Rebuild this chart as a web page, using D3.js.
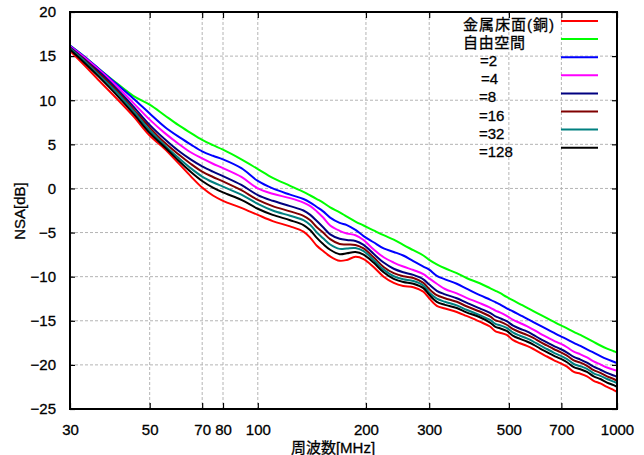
<!DOCTYPE html>
<html>
<head>
<meta charset="utf-8">
<script src="https://cdn.jsdelivr.net/npm/d3@7"></script>
<style>
  html, body { margin: 0; padding: 0; background: #fff; }
  svg { display: block; }
  text { font-family: "Liberation Sans", Arial, "Noto Sans CJK JP", sans-serif; fill: #000; stroke: #000; stroke-width: 0.3px; }
  .cjk { font-family: "Liberation Sans", "Noto Sans CJK JP", sans-serif; }
</style>
</head>
<body>
<svg id="chart" width="644" height="455"></svg>
<script>
// ---- data ----
const freqMHz = [30,33,36,40,45,50,55,60,65,70,75,80,90,100,110,123,134,140,146,152,159,169,177,187,197,210,224,239,254,271,289,300,315,332,358,381,415,443,459,472,493,514,537,561,585,611,638,666,696,726,758,791,825,861,899,938,979,1000];

const nsaMetal = [15.6,13.9,12.3,10.4,8.2, 6.0,4.5,2.9,1.4,0.1, -0.8,-1.4,-2.2,-3.0,-3.7, -4.3,-4.9,-5.6,-6.5,-7.1, -7.7,-8.2,-8.1,-7.75,-8.0, -8.9,-10.0,-10.7,-11.05,-11.2, -11.7,-12.45,-13.3,-13.6,-14.0, -14.45,-15.1,-15.65,-16.2,-16.35, -16.6,-17.2,-17.55,-17.85,-18.2, -18.65,-19.05,-19.45,-19.8,-20.2, -20.8,-21.0,-21.3,-21.8,-22.1, -22.5,-22.85,-23.05];
const nsaFree = [16.2,14.9,13.6,12.1,10.5, 9.5,8.3,7.2,6.3,5.5, 4.9,4.4,3.3,2.2,1.2, 0.3,-0.4,-0.8,-1.2,-1.6, -2.15,-2.7,-3.2,-3.75,-4.2, -4.75,-5.3,-5.8,-6.4,-7.0, -7.6,-8.1,-8.6,-9.05,-9.6, -10.15,-10.75,-11.3,-11.6,-11.85, -12.3,-12.7,-13.1,-13.5,-13.9, -14.3,-14.7,-15.1,-15.5,-15.85, -16.25,-16.6,-17.0,-17.4,-17.8, -18.15,-18.45,-18.6];
const nsa2 = [16.2,14.9,13.6,12.0,10.2, 8.5,7.0,5.9,5.0,4.2, 3.7,3.3,2.3,0.85,0.0, -0.7,-1.2,-1.6,-2.1,-2.6, -3.3,-3.9,-4.15,-4.7,-5.4, -6.1,-6.8,-7.2,-7.6,-8.25, -8.85,-9.2,-9.9,-10.3,-10.8, -11.35,-12.1,-12.6,-12.9,-13.15, -13.6,-13.95,-14.35,-14.75,-15.15, -15.55,-15.95,-16.35,-16.75,-17.1, -17.5,-17.85,-18.25,-18.6,-19.0, -19.35,-19.65,-19.8];
const nsa4 = [16.1,14.8,13.5,11.8,9.7, 7.8,6.3,5.1,4.1,3.4, 2.8,2.3,1.3,0.0,-0.6, -1.1,-1.6,-2.0,-2.6,-3.3, -4.2,-4.8,-5.1,-5.3,-5.85, -6.9,-7.8,-8.4,-8.85,-9.25, -9.7,-10.2,-10.8,-11.4,-11.9, -12.4,-13.0,-13.5,-13.85,-14.05, -14.45,-14.9,-15.25,-15.6,-16.0, -16.45,-16.85,-17.25,-17.6,-18.0, -18.5,-18.8,-19.15,-19.6,-19.95, -20.3,-20.55,-20.65];
const nsa8 = [16.0,14.6,13.3,11.5,9.3, 7.2,5.6,4.3,3.3,2.5, 1.9,1.4,0.4,-0.75,-1.4, -2.0,-2.5,-3.0,-3.7,-4.4, -5.2,-5.7,-5.85,-5.95,-6.4, -7.4,-8.4,-9.1,-9.5,-9.8, -10.3,-10.9,-11.6,-12.0,-12.45, -12.95,-13.6,-14.1,-14.5,-14.7, -15.05,-15.55,-15.9,-16.2,-16.6, -17.05,-17.45,-17.85,-18.2,-18.6, -19.1,-19.4,-19.75,-20.2,-20.55, -20.9,-21.2,-21.35];
const nsa16 = [15.9,14.5,13.1,11.3,9.0, 6.9,5.2,3.9,2.8,1.9, 1.3,0.8,-0.2,-1.3,-2.0, -2.6,-3.1,-3.6,-4.4,-5.0, -5.75,-6.3,-6.35,-6.4,-6.8, -7.8,-8.9,-9.6,-9.95,-10.15, -10.7,-11.4,-12.1,-12.45,-12.85, -13.35,-13.95,-14.5,-14.95,-15.1, -15.45,-15.95,-16.3,-16.6,-16.95, -17.4,-17.8,-18.2,-18.55,-18.95, -19.5,-19.75,-20.1,-20.6,-20.9, -21.3,-21.6,-21.8];
const nsa32 = [15.85,14.4,12.9,11.1,8.8, 6.6,4.9,3.5,2.3,1.35, 0.7,0.2,-0.7,-1.75,-2.5, -3.1,-3.6,-4.15,-5.0,-5.65, -6.35,-6.85,-6.8,-6.75,-7.1, -8.1,-9.2,-9.95,-10.3,-10.5, -11.0,-11.8,-12.5,-12.85,-13.25, -13.75,-14.35,-14.9,-15.35,-15.5, -15.8,-16.35,-16.7,-17.0,-17.35, -17.8,-18.2,-18.6,-18.95,-19.35, -19.9,-20.15,-20.45,-20.95,-21.25, -21.6,-21.9,-22.05];
const nsa128 = [15.75,14.2,12.7,10.8,8.5, 6.3,4.7,3.2,1.9,0.85, 0.1,-0.45,-1.3,-2.3,-3.0, -3.6,-4.15,-4.75,-5.6,-6.3, -6.95,-7.45,-7.35,-7.2,-7.5, -8.4,-9.5,-10.25,-10.6,-10.8, -11.3,-12.05,-12.85,-13.2,-13.55, -14.05,-14.6,-15.2,-15.7,-15.85, -16.15,-16.7,-17.05,-17.35,-17.7, -18.15,-18.55,-18.95,-19.3,-19.7, -20.25,-20.5,-20.8,-21.3,-21.6, -22.0,-22.3,-22.5];

const seriesLabels = ["金属床面(銅)", "自由空間", "=2", "=4", "=8", "=16", "=32", "=128"];
const seriesValues = [nsaMetal, nsaFree, nsa2, nsa4, nsa8, nsa16, nsa32, nsa128];
const xTicks = [30, 50, 70, 80, 100, 200, 300, 500, 700, 1000];
const yTicks = [-25, -20, -15, -10, -5, 0, 5, 10, 15, 20];
const xTitle = "周波数[MHz]";
const yTitle = "NSA[dB]";

// ---- styles ----
const seriesColors = ["#ff0000", "#00ff00", "#0000ff", "#ff00ff", "#000080", "#800000", "#008080", "#000000"];

// ---- layout ----
const L = 70, R = 617, T = 12, B = 409;
const svg = d3.select("#chart");
const x = d3.scaleLog().domain([30, 1000]).range([L, R]);
const y = d3.scaleLinear().domain([-25, 20]).range([B, T]);

// grid
const grid = svg.append("g");
grid.selectAll("line.gx").data(xTicks.filter(d => d !== 30 && d !== 1000)).enter().append("line")
  .attr("x1", d => x(d)).attr("x2", d => x(d)).attr("y1", T).attr("y2", B)
  .attr("stroke", "#b4b4b4").attr("stroke-width", 1).attr("stroke-dasharray", "3,2");
grid.selectAll("line.gy").data(yTicks.filter(d => d !== -25 && d !== 20)).enter().append("line")
  .attr("x1", L).attr("x2", R).attr("y1", d => y(d)).attr("y2", d => y(d))
  .attr("stroke", "#b4b4b4").attr("stroke-width", 1).attr("stroke-dasharray", "3,2");

// axes with inward ticks
const axB = d3.axisBottom(x).tickValues(xTicks).tickFormat(d3.format("d")).tickSizeInner(-6).tickSizeOuter(0).tickPadding(15);
const axL = d3.axisLeft(y).tickValues(yTicks).tickFormat(d3.format("d")).tickSizeInner(-5).tickSizeOuter(0).tickPadding(14);
const axT = d3.axisTop(x).tickValues(xTicks).tickFormat("").tickSizeInner(-6).tickSizeOuter(0);
const axR = d3.axisRight(y).tickValues(yTicks).tickFormat("").tickSizeInner(-5).tickSizeOuter(0);

function style(g) {
  g.select(".domain").remove();
  g.selectAll(".tick line").attr("stroke", "#000").attr("stroke-width", 1.2);
  g.selectAll(".tick text").attr("font-size", 15).attr("font-family", "'Liberation Sans', Arial, sans-serif").attr("fill", "#000");
}
svg.append("g").attr("transform", `translate(0,${B})`).call(axB).call(style);
svg.append("g").attr("transform", `translate(${L},0)`).call(axL).call(style);
svg.append("g").attr("transform", `translate(0,${T})`).call(axT).call(style);
svg.append("g").attr("transform", `translate(${R},0)`).call(axR).call(style);

// lines
const line = d3.line().x(d => x(d[0])).y(d => y(d[1])).curve(d3.curveCatmullRom.alpha(0.5));
seriesValues.forEach((vals, i) => {
  svg.append("path")
    .datum(freqMHz.map((f, j) => [f, vals[j]]))
    .attr("fill", "none")
    .attr("stroke", seriesColors[i])
    .attr("stroke-width", 2)
    .attr("stroke-linejoin", "round")
    .attr("d", line);
});

// frame
svg.append("rect").attr("x", L).attr("y", T).attr("width", R - L).attr("height", B - T)
  .attr("fill", "none").attr("stroke", "#000").attr("stroke-width", 2);

// legend
const legX = [463, 463, 480, 481, 479, 479, 479, 479];
const leg = svg.append("g");
seriesLabels.forEach((lab, i) => {
  const ly = 21 + i * 18.1;
  const t = leg.append("text").attr("class", "cjk").attr("x", legX[i]).attr("y", ly + 9)
    .attr("font-size", 15).text(lab);
  if (i === 0) t.attr("textLength", 91).attr("lengthAdjust", "spacing");
  if (i === 1) t.attr("textLength", 62).attr("lengthAdjust", "spacing");
  leg.append("line").attr("x1", 561).attr("x2", 598).attr("y1", ly).attr("y2", ly)
    .attr("stroke", seriesColors[i]).attr("stroke-width", 2);
});

// titles
svg.append("text").attr("class", "cjk").attr("x", 333).attr("y", 453).attr("text-anchor", "middle")
  .attr("font-size", 15).text(xTitle);
svg.append("text").attr("transform", "translate(25,211) rotate(-90)").attr("text-anchor", "middle")
  .attr("font-size", 15).text(yTitle);
</script>
</body>
</html>
